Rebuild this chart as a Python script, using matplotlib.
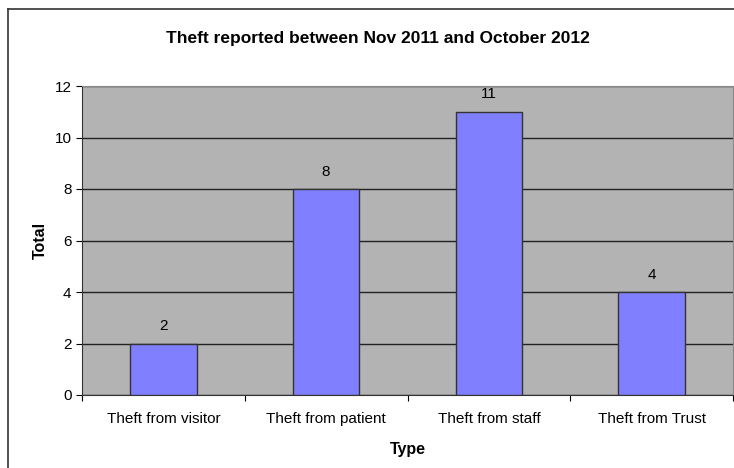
import matplotlib.pyplot as plt
from matplotlib.lines import Line2D

# data
categories = ['Theft from visitor', 'Theft from patient', 'Theft from staff', 'Theft from Trust']
totals = [2, 8, 11, 4]
y_ticks = [0, 2, 4, 6, 8, 10, 12]

plt.rcParams['font.family'] = ['Liberation Sans', 'DejaVu Sans']

W, H = 734, 468
fig = plt.figure(figsize=(W / 100, H / 100), dpi=100)
ax = fig.add_axes([82 / W, 1 - 395 / H, (733 - 82) / W, (395 - 86) / H])
ax.set_facecolor('#b3b3b3')

x = list(range(len(categories)))
ax.bar(x, totals, width=0.41, color='#8080ff', edgecolor='#333333', linewidth=1, zorder=3)
for xi, v in zip(x, totals):
    ax.text(xi, v + 0.4, str(v), ha='center', va='bottom', fontsize=11, zorder=4)

ax.set_xlim(-0.5, len(categories) - 0.5)
ax.set_ylim(0, 12)
ax.set_yticks(y_ticks)
ax.yaxis.grid(True, color='#222222', linewidth=1, zorder=1)
ax.set_axisbelow(True)

# category labels between boundary ticks
ax.set_xticks([i - 0.5 for i in range(len(categories) + 1)])
ax.set_xticklabels([])
ax.set_xticks(x, minor=True)
ax.set_xticklabels(categories, minor=True, fontsize=11)
ax.tick_params(axis='x', which='minor', length=0, pad=12)
ax.tick_params(axis='x', which='major', length=4, direction='out')
ax.tick_params(axis='y', length=4, direction='out', labelsize=11)

for side in ['top', 'right']:
    ax.spines[side].set_color('#888888')
for side in ['left', 'bottom']:
    ax.spines[side].set_color('#333333')

ax.set_xlabel('Type', fontweight='bold', fontsize=11.5, labelpad=12)
ax.set_ylabel('Total', fontweight='bold', fontsize=11.5, labelpad=5)
fig.text(378 / W, 1 - 38 / H, 'Theft reported between Nov 2011 and October 2012',
         ha='center', va='center', fontweight='bold', fontsize=12.5)

# outer chart frame
fig.add_artist(Line2D([8 / W, 8 / W], [0, 1 - 9 / H], color='#333333', linewidth=1.2, transform=fig.transFigure))
fig.add_artist(Line2D([8 / W, 1], [1 - 9 / H, 1 - 9 / H], color='#333333', linewidth=1.2, transform=fig.transFigure))

fig.savefig('out.png', dpi=100)
